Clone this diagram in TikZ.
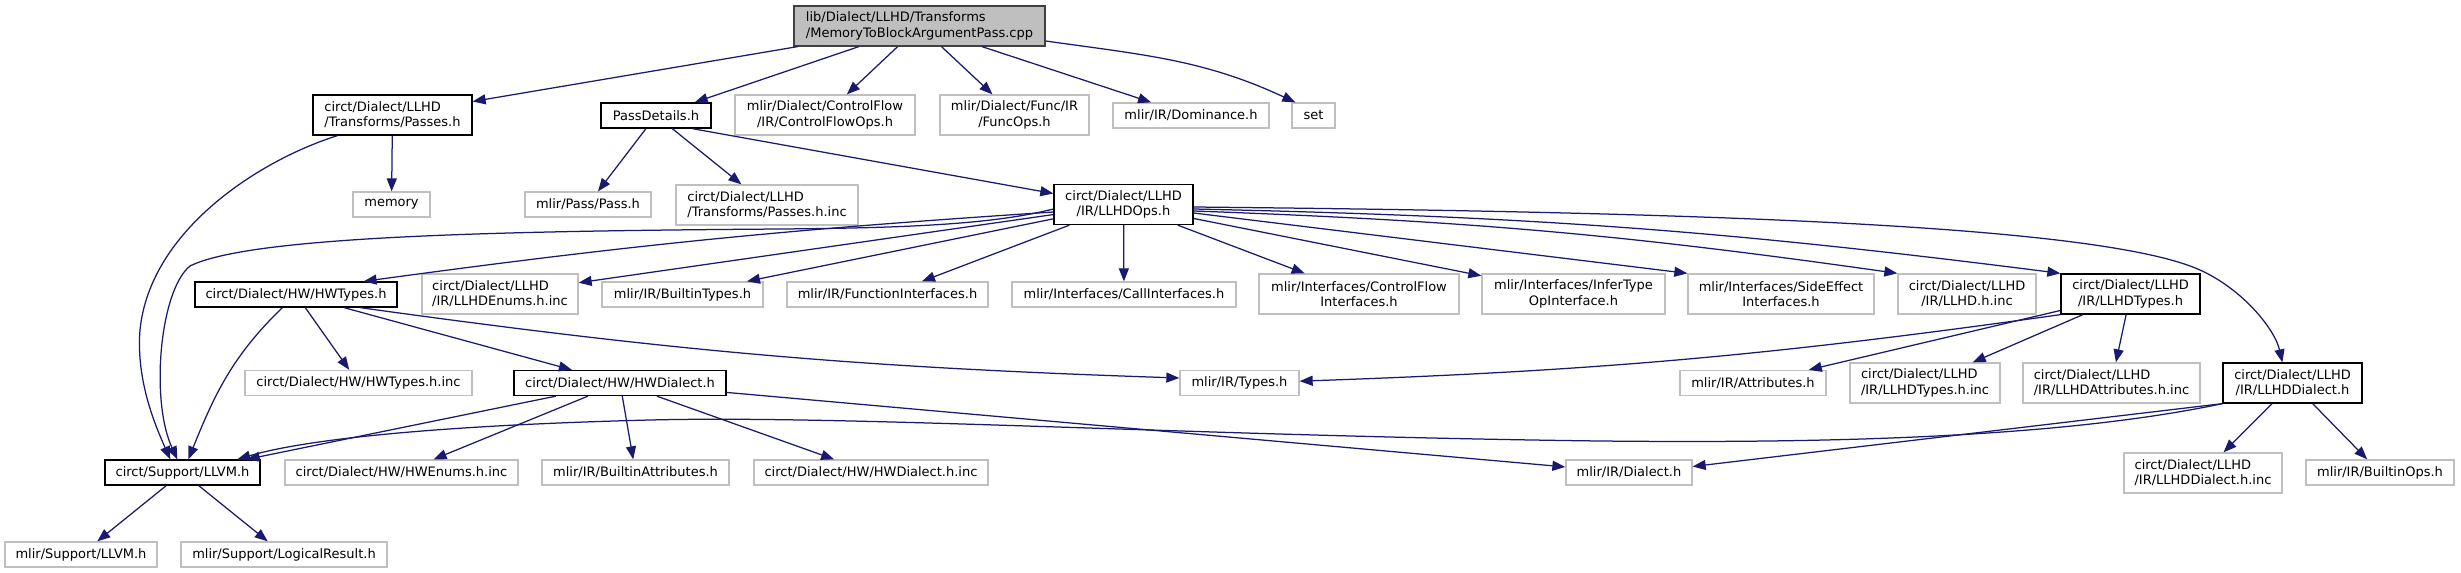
\documentclass[tikz,border=0pt]{standalone}
\usepackage{fontspec}
\setmainfont{DejaVu Sans}
\usetikzlibrary{arrows.meta}
\definecolor{edgeblue}{HTML}{191970}
\definecolor{extgray}{HTML}{BFBFBF}
\definecolor{mainfill}{HTML}{BFBFBF}
\definecolor{mainborder}{HTML}{404040}
\tikzset{
  box/.style={draw, rectangle, inner sep=0pt, line width=1.3pt, font=\fontsize{13}{15.3}\selectfont},
  sz/.style 2 args={minimum width=#1, minimum height=#2},
  intbox/.style={box, draw=black},
  extbox/.style={box, draw=extgray},
  mainbox/.style={box, draw=mainborder, fill=mainfill},
  edge/.style={draw=edgeblue, line width=1.25pt, -{Triangle[length=13pt,width=10pt]}},
}
\begin{document}
\begin{tikzpicture}[x=1pt, y=-1pt]
\fill[white] (0,0) rectangle (2461,573);
\useasboundingbox (0,0) rectangle (2461,573);
% row 1
\node[mainbox, sz={251}{40}, align=left] (main) at (919.5,26) {lib/Dialect/LLHD/Transforms\\/MemoryToBlockArgumentPass.cpp};
% row 2
\node[intbox, sz={159}{40}, align=left] (passes) at (392.5,115) {circt/Dialect/LLHD\\/Transforms/Passes.h};
\node[intbox, sz={110}{25}] (passdetails) at (656,115.5) {PassDetails.h};
\node[extbox, sz={180}{40}, align=center] (cfops) at (825,115) {mlir/Dialect/ControlFlow\\/IR/ControlFlowOps.h};
\node[extbox, sz={149}{40}, align=center] (funcops) at (1014.5,115) {mlir/Dialect/Func/IR\\/FuncOps.h};
\node[extbox, sz={156}{25}] (dominance) at (1191,115.5) {mlir/IR/Dominance.h};
\node[extbox, sz={43}{25}] (set) at (1313.5,115.5) {set};
% row 3
\node[extbox, sz={77}{25}] (memory) at (391.5,204.5) {memory};
\node[extbox, sz={126}{25}] (pass) at (588,204.5) {mlir/Pass/Pass.h};
\node[extbox, sz={182}{40}, align=left] (passesinc) at (767,205) {circt/Dialect/LLHD\\/Transforms/Passes.h.inc};
\node[intbox, sz={139}{40}, align=center] (llhdops) at (1123.5,204.5) {circt/Dialect/LLHD\\/IR/LLHDOps.h};
% row 4
\node[intbox, sz={202}{25}] (hwtypes) at (296,294.5) {circt/Dialect/HW/HWTypes.h};
\node[extbox, sz={156}{40}, align=left] (enumsinc) at (500,294) {circt/Dialect/LLHD\\/IR/LLHDEnums.h.inc};
\node[extbox, sz={161}{25}] (builtintypes) at (682.5,294.5) {mlir/IR/BuiltinTypes.h};
\node[extbox, sz={201}{25}] (funcif) at (887.5,294.5) {mlir/IR/FunctionInterfaces.h};
\node[extbox, sz={224}{25}] (callif) at (1124,294.5) {mlir/Interfaces/CallInterfaces.h};
\node[extbox, sz={200}{40}, align=center] (cfif) at (1359,294) {mlir/Interfaces/ControlFlow\\Interfaces.h};
\node[extbox, sz={183}{40}, align=center] (infer) at (1573.5,294) {mlir/Interfaces/InferType\\OpInterface.h};
\node[extbox, sz={186}{40}, align=center] (sideeff) at (1781,294) {mlir/Interfaces/SideEffect\\Interfaces.h};
\node[extbox, sz={138}{40}, align=center] (llhdinc) at (1967,294) {circt/Dialect/LLHD\\/IR/LLHD.h.inc};
\node[intbox, sz={139}{40}, align=center] (llhdtypes) at (2130.5,294) {circt/Dialect/LLHD\\/IR/LLHDTypes.h};
% row 5
\node[extbox, sz={227}{25}] (hwtypesinc) at (358.5,383) {circt/Dialect/HW/HWTypes.h.inc};
\node[intbox, sz={212}{25}] (hwdialect) at (620,383) {circt/Dialect/HW/HWDialect.h};
\node[extbox, sz={119}{25}] (types) at (1239.5,383) {mlir/IR/Types.h};
\node[extbox, sz={146}{25}] (attrs) at (1753,383) {mlir/IR/Attributes.h};
\node[extbox, sz={150}{40}, align=left] (llhdtypesinc) at (1925,383) {circt/Dialect/LLHD\\/IR/LLHDTypes.h.inc};
\node[extbox, sz={177}{40}, align=left] (llhdattrsinc) at (2111.5,383) {circt/Dialect/LLHD\\/IR/LLHDAttributes.h.inc};
\node[intbox, sz={139}{40}, align=center] (llhddialect) at (2292.5,383) {circt/Dialect/LLHD\\/IR/LLHDDialect.h};
% row 6
\node[intbox, sz={155}{25}] (llvm) at (182.5,472.5) {circt/Support/LLVM.h};
\node[extbox, sz={233}{25}] (hwenums) at (401.5,472.5) {circt/Dialect/HW/HWEnums.h.inc};
\node[extbox, sz={187}{25}] (builtinattrs) at (635.5,472.5) {mlir/IR/BuiltinAttributes.h};
\node[extbox, sz={234}{25}] (hwdialectinc) at (871,472.5) {circt/Dialect/HW/HWDialect.h.inc};
\node[extbox, sz={126}{25}] (dialect) at (1629,472.5) {mlir/IR/Dialect.h};
\node[extbox, sz={158}{40}, align=left] (llhddialectinc) at (2203,473) {circt/Dialect/LLHD\\/IR/LLHDDialect.h.inc};
\node[extbox, sz={148}{25}] (builtinops) at (2380,472.5) {mlir/IR/BuiltinOps.h};
% row 7
\node[extbox, sz={152}{25}] (mlirllvm) at (81,554.5) {mlir/Support/LLVM.h};
\node[extbox, sz={206}{25}] (logical) at (284,554.5) {mlir/Support/LogicalResult.h};
% edges from main
\draw[edge] (main) -- (passes);
\draw[edge] (main) -- (passdetails);
\draw[edge] (main) -- (cfops);
\draw[edge] (main) -- (funcops);
\draw[edge] (main) -- (dominance);
\draw[edge] ([yshift=-15pt]main.east) to[out=-8,in=155] ([xshift=4pt]set.north west);
% Passes.h
\draw[edge] (passes) -- (memory);
\draw[edge] ([xshift=25pt]passes.south west) .. controls (260,160) and (150,230) .. (140,330) .. controls (136,380) and (155,425) .. ([xshift=66pt]llvm.north west);
% PassDetails.h
\draw[edge] (passdetails) -- (pass);
\draw[edge] (passdetails) -- (passesinc);
\draw[edge] ([xshift=92pt]passdetails.south west) -- ([yshift=11pt]llhdops.west);
% LLHDOps.h
\draw[edge] ([yshift=-4.5pt]llhdops.west) .. controls (990,225) and (900,228) .. (780,229) .. controls (500,231) and (250,236) .. (190,266) .. controls (160,290) and (150,400) .. ([xshift=73pt]llvm.north west);
\draw[edge] ([yshift=-7.5pt]llhdops.west) to[bend right=2] ([xshift=-34pt]hwtypes.north east);
\draw[edge] (llhdops) -- (enumsinc);
\draw[edge] (llhdops) -- (builtintypes);
\draw[edge] (llhdops) -- (funcif);
\draw[edge] (llhdops) -- (callif);
\draw[edge] (llhdops) -- (cfif);
\draw[edge] (llhdops) -- (infer);
\draw[edge] ([yshift=-8.5pt]llhdops.east) -- (sideeff.north west);
\draw[edge] ([yshift=-6.5pt]llhdops.east) to[bend left=3] (llhdinc.north west);
\draw[edge] ([yshift=-4.5pt]llhdops.east) to[bend left=3] (llhdtypes.north west);
\draw[edge] ([yshift=-2.5pt]llhdops.east) .. controls (1700,212) and (2100,225) .. (2200,270) .. controls (2244,290) and (2275,330) .. ([xshift=60pt]llhddialect.north west);
% HWTypes.h
\draw[edge] ([xshift=88pt]hwtypes.south west) to[out=-136,in=68] ([xshift=84pt]llvm.north west);
\draw[edge] (hwtypes) -- (hwtypesinc);
\draw[edge] (hwtypes) -- (hwdialect);
\draw[edge] ([xshift=166pt]hwtypes.south west) to[bend right=3] ([yshift=5pt]types.west);
% HWDialect.h
\draw[edge] (hwdialect) -- (llvm);
\draw[edge] (hwdialect) -- (hwenums);
\draw[edge] (hwdialect) -- (builtinattrs);
\draw[edge] (hwdialect) -- (hwdialectinc);
\draw[edge] (hwdialect) -- (dialect);
% LLHDTypes.h
\draw[edge] (llhdtypes.south west) to[bend left=3] (types);
\draw[edge] (llhdtypes) -- (attrs);
\draw[edge] (llhdtypes) -- (llhdtypesinc);
\draw[edge] (llhdtypes) -- (llhdattrsinc);
% LLHDDialect.h
\draw[edge] (llhddialect.south west) .. controls (2050,440) and (1800,443) .. (1600,441) .. controls (1200,436) and (850,415) .. (650,420) .. controls (450,425) and (310,438) .. ([xshift=133pt]llvm.north west);
\draw[edge] (llhddialect.south west) -- ([yshift=6pt]dialect.east);
\draw[edge] (llhddialect) -- (llhddialectinc);
\draw[edge] (llhddialect) -- (builtinops);
% LLVM.h
\draw[edge] (llvm) -- (mlirllvm);
\draw[edge] (llvm) -- (logical);
\end{tikzpicture}
\end{document}
